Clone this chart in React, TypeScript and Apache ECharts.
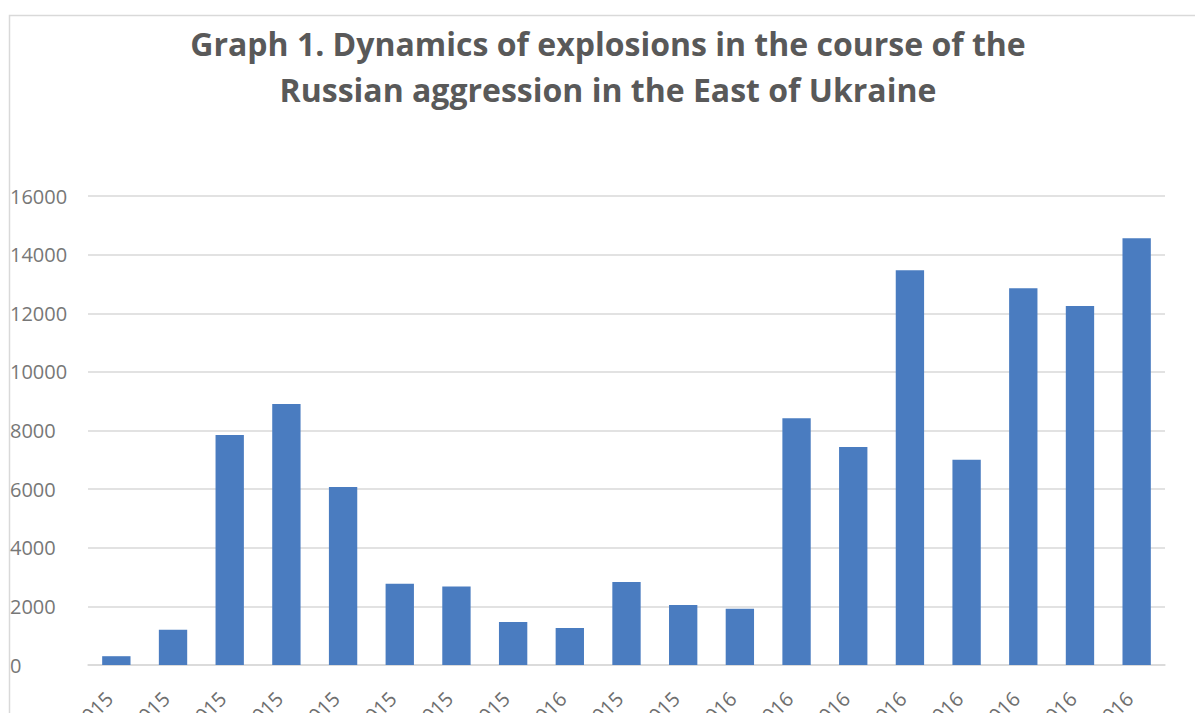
import React, { useEffect, useRef } from "react";
import * as echarts from "echarts";

const categories = [
  "01.2015", "02.2015", "03.2015", "04.2015", "05.2015", "06.2015", "07.2015",
  "08.2015", "01.2016", "09.2015", "10.2015", "02.2016", "03.2016", "04.2016",
  "05.2016", "06.2016", "07.2016", "08.2016", "09.2016",
];
const explosions = [
  300, 1200, 7850, 8900, 6070, 2770, 2680, 1470, 1260, 2830, 2050, 1920,
  8420, 7440, 13470, 7000, 12850, 12250, 14560,
];
const yTicks = { min: 0, max: 16000, interval: 2000 };
const titleText =
  "Graph 1. Dynamics of explosions in the course of the\nRussian aggression in the East of Ukraine";

export default function App() {
  const ref = useRef<HTMLDivElement>(null);
  useEffect(() => {
    document.body.style.margin = "0";
    const chart = echarts.init(ref.current!, null, { renderer: "svg" });
    chart.setOption({
      animation: false,
      backgroundColor: "#ffffff",
      graphic: [
        {
          type: "rect",
          shape: { x: 9.5, y: 15.5, width: 1300, height: 800 },
          style: { fill: "none", stroke: "#d9d9d9", lineWidth: 1.5 },
          silent: true,
          z: -1,
        },
        {
          type: "text",
          x: 608,
          y: 20,
          style: {
            text: titleText,
            fill: "#595959",
            font: "bold 32px 'Open Sans', sans-serif",
            textAlign: "center",
            textVerticalAlign: "top",
            lineHeight: 46,
          },
        },
      ],
      grid: {
        left: 88,
        right: 30,
        top: 196,
        bottom: 48,
        containLabel: false,
        outerBoundsMode: "none",
      },
      xAxis: {
        type: "category",
        data: categories,
        axisLine: { show: true, lineStyle: { color: "#d9d9d9", width: 1.5 } },
        axisTick: { show: false },
        axisLabel: {
          rotate: 45,
          margin: 23,
          padding: [0, 10, 0, 0],
          color: "#6e6e6e",
          fontSize: 20,
          fontFamily: "'Open Sans', sans-serif",
        },
      },
      yAxis: {
        type: "value",
        min: yTicks.min,
        max: yTicks.max,
        interval: yTicks.interval,
        axisLine: { show: false },
        axisTick: { show: false },
        splitLine: { lineStyle: { color: "#d9d9d9", width: 1.5 } },
        axisLabel: {
          align: "left",
          margin: 78,
          color: "#777777",
          fontSize: 20,
          fontFamily: "'Open Sans', sans-serif",
          formatter: (v: number) => String(v),
        },
      },
      series: [
        {
          type: "bar",
          data: explosions,
          barWidth: "50%",
          itemStyle: { color: "#4a7cc0" },
        },
      ],
    });
    return () => chart.dispose();
  }, []);
  return (
    <div
      ref={ref}
      style={{ position: "fixed", left: 0, top: 0, width: 1195, height: 713 }}
    />
  );
}
